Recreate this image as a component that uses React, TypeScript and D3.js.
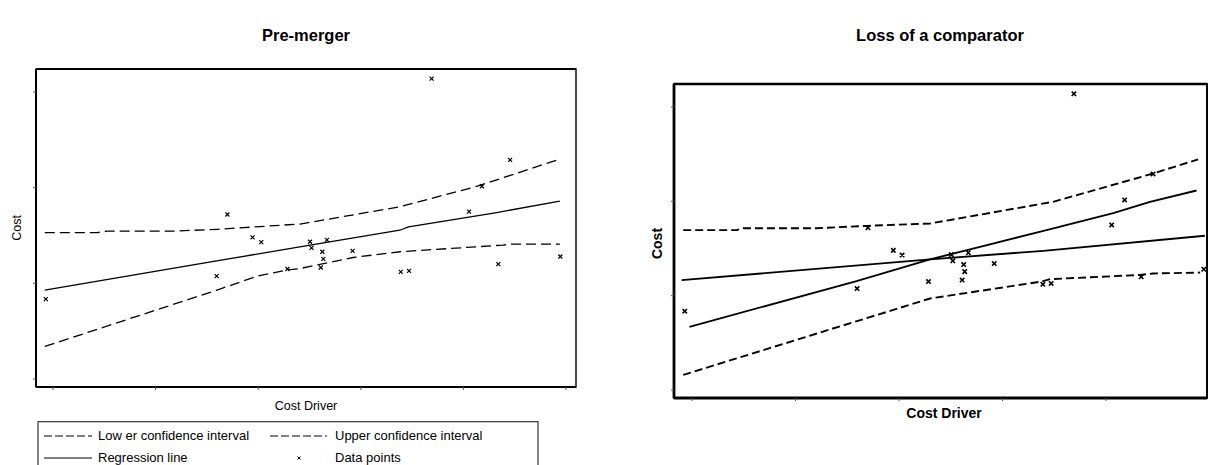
import React from "react";
import * as d3 from "d3";

// data points (same in both panels)
const costDriver = [-1.4, 31.9, 34.0, 38.9, 40.6, 45.7, 50.1, 50.4, 52.2, 52.5, 52.7, 53.4, 58.4, 67.8, 69.4, 73.8, 81.1, 83.6, 86.8, 89.1, 98.9];
const cost = [16.7, 21.5, 34.4, 29.6, 28.6, 23.0, 28.7, 27.4, 23.3, 26.6, 25.1, 29.1, 26.8, 22.4, 22.6, 62.8, 35.0, 40.3, 24.0, 45.8, 25.6];

const xTicks = [0, 20, 40, 60, 80, 100];
const yTicks = [0, 20, 40, 60];

// pre-merger lines
const preRegX = [-1.6, 31.9, 48.1, 67.6, 69.3, 86.5, 98.8];
const preRegY = [18.6, 24.7, 27.6, 31.1, 31.8, 34.8, 37.2];
const preUpperX = [-1.6, 8.6, 10.5, 23.4, 32.0, 48.2, 67.6, 82.7, 98.3];
const preUpperY = [30.6, 30.6, 30.9, 30.9, 31.3, 32.4, 36.0, 40.3, 45.8];
const preLowerX = [-1.6, 32.0, 39.8, 45.7, 48.2, 58.5, 67.6, 87.7, 89.5, 98.8];
const preLowerY = [6.8, 18.6, 21.5, 22.8, 23.1, 25.4, 26.6, 28.0, 28.2, 28.2];

// loss of a comparator lines
const postRegX = [-0.5, 31.8, 46.0, 57.0, 68.5, 81.4, 88.5, 97.5];
const postRegY = [13.4, 23.1, 27.7, 30.7, 33.9, 37.5, 39.9, 42.3];
const postOldRegX = [-2.0, 46.0, 67.9, 99.1];
const postOldRegY = [23.3, 27.7, 29.5, 32.7];
const postUpperX = [-1.7, 8.6, 9.9, 24.1, 33.8, 46.0, 69.8, 89.1, 97.8];
const postUpperY = [33.9, 33.9, 34.3, 34.3, 34.8, 35.3, 39.9, 45.9, 48.9];
const postLowerX = [-1.7, 46.0, 67.6, 69.2, 86.6, 89.1, 98.2];
const postLowerY = [3.2, 19.4, 23.0, 23.5, 24.4, 24.7, 24.9];

const FONT = "'Liberation Sans', Arial, sans-serif";

type Box = { left: number; right: number; top: number; bottom: number };

function Panel({
  box, xRange, yRange, lines, frameW, lineW, dash, mark, mw, bold, labelSize,
  title, titleX, xLabelX, xLabelY, yLabelX, yLabelY,
}: any) {
  const x = d3.scaleLinear().domain([0, 100]).range(xRange);
  const y = d3.scaleLinear().domain([0, 60]).range(yRange);
  const b: Box = box;
  const pts = costDriver.map((d, i) => [x(d), y(cost[i])]);
  return (
    <g>
      <text x={titleX} y={41} textAnchor="middle" fontSize={16.5} fontWeight="bold" fontFamily={FONT}>{title}</text>
      <rect x={b.left} y={b.top} width={b.right - b.left} height={b.bottom - b.top} fill="none" stroke="#000" strokeWidth={frameW * 0.7} />
      <line x1={b.left} x2={b.left} y1={b.top} y2={b.bottom} stroke="#000" strokeWidth={frameW} />
      <line x1={b.left} x2={b.right} y1={b.bottom} y2={b.bottom} stroke="#000" strokeWidth={frameW} />
      <line x1={b.left} x2={b.right} y1={b.top} y2={b.top} stroke="#000" strokeWidth={frameW * 0.9} />
      {xTicks.filter((t) => x(t) < b.right).map((t) => (
        <line key={"xt" + t} x1={x(t)} x2={x(t)} y1={b.bottom} y2={b.bottom + 3} stroke="#555" strokeWidth={1} />
      ))}
      {yTicks.map((t) => (
        <line key={"yt" + t} x1={b.left - 3} x2={b.left} y1={y(t)} y2={y(t)} stroke="#555" strokeWidth={1} />
      ))}
      {lines.map((l: any, i: number) => {
        const gen = d3.line<number>().x((d) => x(d)).y((_, j) => y(l.ys[j]));
        return (
          <path key={i} d={gen(l.xs) || ""} fill="none" stroke="#000" strokeWidth={lineW}
            strokeDasharray={l.dashed ? dash : undefined} />
        );
      })}
      {pts.map(([px, py], i) => (
        <path key={"p" + i} d={`M${px - mw},${py - mw}L${px + mw},${py + mw}M${px - mw},${py + mw}L${px + mw},${py - mw}`}
          stroke="#000" strokeWidth={mark} />
      ))}
      <text x={xLabelX} y={xLabelY} textAnchor="middle" fontSize={labelSize} fontWeight={bold ? "bold" : "normal"} fontFamily={FONT}>Cost Driver</text>
      <text transform={`translate(${yLabelX},${yLabelY}) rotate(-90)`} textAnchor="middle" fontSize={labelSize}
        fontWeight={bold ? "bold" : "normal"} fontFamily={FONT}>Cost</text>
    </g>
  );
}

export default function App() {
  const preLines = [
    { xs: preUpperX, ys: preUpperY, dashed: true },
    { xs: preLowerX, ys: preLowerY, dashed: true },
    { xs: preRegX, ys: preRegY, dashed: false },
  ];
  const postLines = [
    { xs: postUpperX, ys: postUpperY, dashed: true },
    { xs: postLowerX, ys: postLowerY, dashed: true },
    { xs: postRegX, ys: postRegY, dashed: false },
    { xs: postOldRegX, ys: postOldRegY, dashed: false },
  ];
  return (
    <svg width={1208} height={465} style={{ position: "absolute", left: 0, top: 0, background: "#fff" }}>
      <Panel
        box={{ left: 36, right: 576, top: 69, bottom: 387 }}
        xRange={[53, 566]} yRange={[379, 92]} lines={preLines}
        frameW={2} lineW={1.3} dash="10,5" mark={1.2} mw={2} labelSize={12.5}
        title="Pre-merger" titleX={306} xLabelX={306} xLabelY={410} yLabelX={21} yLabelY={228}
      />
      <Panel
        box={{ left: 674, right: 1207, top: 84, bottom: 398 }}
        xRange={[692, 1209.5]} yRange={[390, 107]} lines={postLines}
        frameW={2.8} lineW={1.9} dash="8,4" mark={1.6} mw={2.2} bold labelSize={14}
        title="Loss of a comparator" titleX={940} xLabelX={944} xLabelY={418} yLabelX={662} yLabelY={243.5}
      />
      <g fontFamily={FONT} fontSize={13}>
        <rect x={38} y={421.7} width={500} height={60} fill="none" stroke="#333" strokeWidth={1.2} />
        <line x1={44} x2={92} y1={436} y2={436} stroke="#000" strokeWidth={1} strokeDasharray="8,3" />
        <text x={98} y={440}>Low er confidence interval</text>
        <line x1={270} x2={327} y1={436} y2={436} stroke="#000" strokeWidth={1} strokeDasharray="8,3" />
        <text x={335} y={440}>Upper confidence interval</text>
        <line x1={44} x2={92} y1={458} y2={458} stroke="#000" strokeWidth={1} />
        <text x={98} y={462}>Regression line</text>
        <path d="M297.5,456.5L300.5,459.5M297.5,459.5L300.5,456.5" stroke="#000" strokeWidth={1} />
        <text x={335} y={462}>Data points</text>
      </g>
    </svg>
  );
}
